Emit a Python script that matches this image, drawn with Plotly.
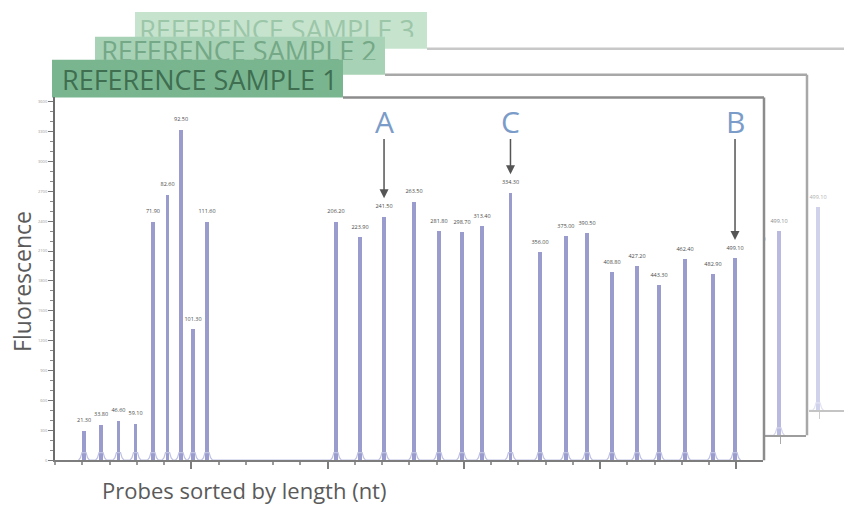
import plotly.graph_objects as go

# ---------------- data ----------------
probe_nt = [21.3, 33.8, 46.6, 59.1, 71.9, 82.6, 92.5, 101.3, 111.6,
            206.2, 223.9, 241.5, 263.5, 281.8, 298.7, 313.4, 334.3, 356.0,
            375.0, 390.5, 408.8, 427.2, 443.3, 462.4, 482.9, 499.1]
sample1_rfu = [300, 360, 400, 370, 2400, 2670, 3320, 1320, 2400,
               2400, 2240, 2450, 2600, 2300, 2290, 2350, 2690, 2090,
               2250, 2280, 1890, 1950, 1760, 2020, 1870, 2030]
sample2_rfu = [300, 360, 400, 370, 2400, 2670, 3320, 1320, 2400,
               2400, 2240, 2450, 2600, 2300, 2290, 2350, 2690, 2090,
               2250, 2280, 1890, 1950, 1760, 2020, 1870, 2050]
sample3_rfu = [300, 360, 400, 370, 2400, 2670, 3320, 1320, 2400,
               2400, 2240, 2450, 2600, 2300, 2290, 2350, 2690, 2090,
               2250, 2280, 1890, 1950, 1760, 2020, 1870, 2040]
sample_names = ["REFERENCE SAMPLE 1", "REFERENCE SAMPLE 2", "REFERENCE SAMPLE 3"]
markers = ["A", "C", "B"]
marker_probe = [241.5, 334.3, 499.1]
x_ticks = [100, 200, 300, 400, 500]

W, H = 844, 505
def PX(x):
    return x / W
def PY(y):
    return 1 - y / H

SCALE = 1.3625  # px per nt

fig = go.Figure()

def labels(xs):
    return ["%.2f" % v for v in xs]

def base_humps(xs):
    bx, by = [], []
    for v in xs:
        bx += [v - 4, v - 2.6, v - 1.5, v + 1.5, v + 2.6, v + 4]
        by += [0, 25, 75, 75, 25, 0]
    return bx, by

def add_sample(heights, bar_color, hump_color, text_color, xa, ya):
    hx, hy = base_humps(probe_nt)
    fig.add_trace(go.Scatter(x=hx, y=hy, mode="lines",
                             line=dict(color=hump_color, width=1.2),
                             xaxis=xa, yaxis=ya, showlegend=False, hoverinfo="skip"))
    fig.add_trace(go.Bar(x=probe_nt, y=heights, width=2.8,
                         marker=dict(color=bar_color, line=dict(width=0)),
                         xaxis=xa, yaxis=ya, showlegend=False))
    fig.add_trace(go.Scatter(x=probe_nt, y=[v + 95 for v in heights],
                             mode="text", text=labels(probe_nt),
                             textfont=dict(size=5.5, color=text_color, family="Open Sans"),
                             xaxis=xa, yaxis=ya, showlegend=False))

add_sample(sample1_rfu, "#9a9cce", "#bfc1e3", "#4a4a4a", "x", "y")
add_sample(sample2_rfu, "#b8bae0", "#d3d4ec", "#8a8a8a", "x2", "y2")
add_sample(sample3_rfu, "#d0d2ec", "#e2e3f3", "#b0b0b0", "x3", "y3")

# tab 3 and tab 2 texts (clipped by their visible tab areas)
fig.add_trace(go.Scatter(x=[(277 - 135) / 292], y=[0.16], mode="text", text=[sample_names[2]],
                         textfont=dict(size=27, color="#9cc6a8", family="Open Sans"),
                         xaxis="x4", yaxis="y4", showlegend=False, cliponaxis=True))
fig.add_trace(go.Scatter(x=[(239 - 95) / 290], y=[0.22], mode="text", text=[sample_names[1]],
                         textfont=dict(size=27, color="#74a886", family="Open Sans"),
                         xaxis="x5", yaxis="y5", showlegend=False, cliponaxis=True))

x1_max = (763 - 55) / SCALE
x2_0, x3_0 = 99, 138

hidden = dict(visible=False, showgrid=False, zeroline=False)

fig.update_layout(
    width=W, height=H, margin=dict(l=0, r=0, t=0, b=0),
    paper_bgcolor="white", plot_bgcolor="rgba(0,0,0,0)",
    bargap=0, showlegend=False,
    font=dict(family="Open Sans", color="#555555"),
    xaxis=dict(domain=[PX(55), PX(763)], range=[0, x1_max], showgrid=False, zeroline=False,
               showline=True, linecolor="#7d7d7d", linewidth=2,
               tickvals=x_ticks, ticks="outside", ticklen=7, tickwidth=1.5, tickcolor="#7d7d7d",
               showticklabels=False,
               minor=dict(dtick=20, ticks="outside", ticklen=3, tickcolor="#9a9a9a"),
               anchor="y"),
    yaxis=dict(domain=[PY(462), PY(97)], range=[0, 3650], showgrid=False, zeroline=False,
               showline=True, linecolor="#6d6d6d", linewidth=2,
               dtick=300, ticks="outside", ticklen=5, tickcolor="#777777",
               tickfont=dict(size=4, color="#999999"),
               minor=dict(dtick=100, ticks="outside", ticklen=3, tickcolor="#888888"),
               anchor="x"),
    xaxis2=dict(domain=[PX(765), PX(806)], range=[(765 - x2_0) / SCALE, (806 - x2_0) / SCALE],
                showgrid=False, zeroline=False, showline=True, linecolor="#9d9d9d", linewidth=2,
                tickvals=x_ticks, ticks="outside", ticklen=7, tickcolor="#aaaaaa",
                showticklabels=False, anchor="y2"),
    yaxis2=dict(domain=[PY(437), PY(75)], range=[0, 3620], anchor="x2", **hidden),
    xaxis3=dict(domain=[PX(809), 1.0], range=[(809 - x3_0) / SCALE, (844 - x3_0) / SCALE],
                showgrid=False, zeroline=False, showline=True, linecolor="#c4c4c4", linewidth=2,
                tickvals=x_ticks, ticks="outside", ticklen=7, tickcolor="#cccccc",
                showticklabels=False, anchor="y3"),
    yaxis3=dict(domain=[PY(412), PY(49)], range=[0, 3630], anchor="x3", **hidden),
    xaxis4=dict(domain=[PX(135), PX(427)], range=[0, 1], anchor="y4", **hidden),
    yaxis4=dict(domain=[PY(37), PY(12)], range=[0, 1], anchor="x4", **hidden),
    xaxis5=dict(domain=[PX(95), PX(385)], range=[0, 1], anchor="y5", **hidden),
    yaxis5=dict(domain=[PY(60), PY(37)], range=[0, 1], anchor="x5", **hidden),
)

shapes = []
def rect(x0, y0, x1, y1, fill):
    shapes.append(dict(type="rect", xref="paper", yref="paper",
                       x0=PX(x0), x1=PX(x1), y0=PY(y1), y1=PY(y0),
                       fillcolor=fill, line=dict(width=0), layer="below"))
def line(x0, y0, x1, y1, color, w=2):
    shapes.append(dict(type="line", xref="paper", yref="paper",
                       x0=PX(x0), x1=PX(x1), y0=PY(y0), y1=PY(y1),
                       line=dict(color=color, width=w), layer="above"))

rect(135, 12, 427, 49, "#c6e3ce")
rect(95, 37, 385, 75, "#a7d2b5")
rect(52, 60, 343, 98, "#79b690")
# panel borders
line(427, 49, 844, 49, "#c8c8c8", 2.5)
line(385, 75, 807, 75, "#a8a8a8", 2.5)
line(807, 75, 807, 437, "#a8a8a8", 2.5)
line(343, 98, 764, 98, "#8c8c8c", 2.5)
line(764, 98, 764, 462, "#8c8c8c", 2.5)
fig.update_layout(shapes=shapes)

ann = []
ann.append(dict(xref="paper", yref="paper", x=PX(200), y=PY(80), text=sample_names[0],
                showarrow=False, font=dict(size=27, color="#3f6e50", family="Open Sans"),
                xanchor="center", yanchor="middle"))
ann.append(dict(xref="paper", yref="paper", x=PX(22), y=PY(283), text="Fluorescence",
                textangle=-90, showarrow=False,
                font=dict(size=23, color="#5a5a5a", family="Open Sans"),
                xanchor="center", yanchor="middle"))
ann.append(dict(xref="paper", yref="paper", x=PX(244), y=PY(492),
                text="Probes sorted by length (nt)", showarrow=False,
                font=dict(size=22, color="#5a5a5a", family="Open Sans"),
                xanchor="center", yanchor="middle"))
for m, p in zip(markers, marker_probe):
    h = sample1_rfu[probe_nt.index(p)]
    ann.append(dict(xref="x", yref="y", x=p, y=3400, text=m, showarrow=False,
                    font=dict(size=30, color="#7b9cc8", family="Open Sans"),
                    xanchor="center", yanchor="middle"))
    ann.append(dict(xref="x", yref="y", axref="x", ayref="y",
                    x=p, y=h + 180, ax=p, ay=3240, text="", showarrow=True,
                    arrowhead=2, arrowsize=1.2, arrowwidth=1.5, arrowcolor="#555555"))
fig.update_layout(annotations=ann)

fig.write_html("out.html")
